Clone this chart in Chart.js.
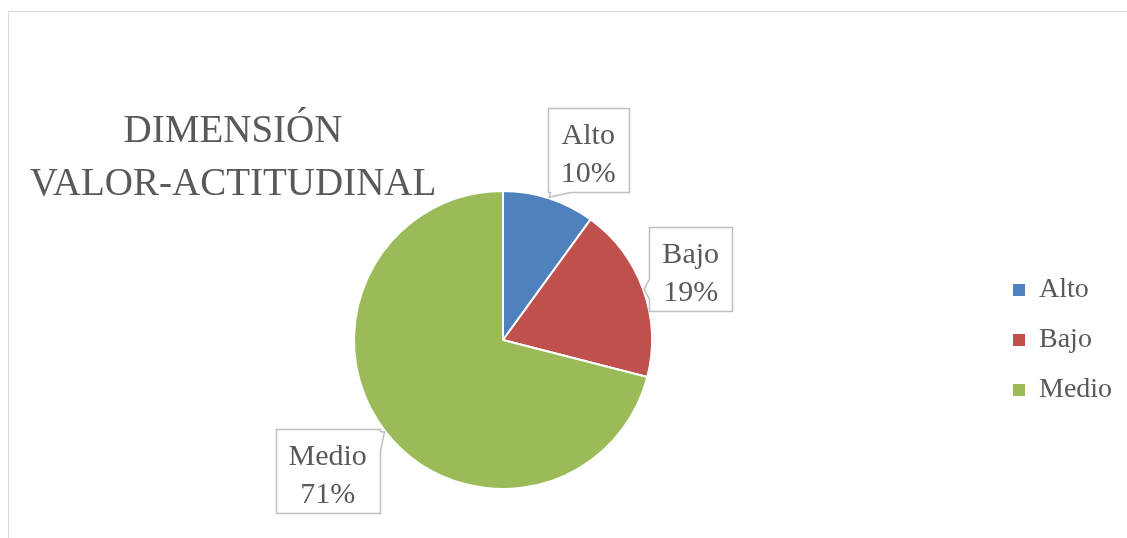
<!DOCTYPE html>
<html>
<head>
<meta charset="utf-8">
<script src="https://cdn.jsdelivr.net/npm/chart.js@4.4.0/dist/chart.umd.min.js"></script>
<style>
  html, body { margin: 0; padding: 0; background: #fff; }
  #wrap { width: 1127px; height: 538px; position: relative; }
</style>
</head>
<body>
<div id="wrap"><canvas id="chart"></canvas></div>
<script>
const categories = ['Alto', 'Bajo', 'Medio'];
const percentages = [10, 19, 71];
const sliceColors = ['#4F81BD', '#C0504D', '#9BBB59'];
const titleLines = ['DIMENSIÓN', 'VALOR-ACTITUDINAL'];

const textColor = '#595959';
const serif = "'Liberation Serif', 'DejaVu Serif', serif";
const legendFontSize = 28;
const legendPadding = 22;
const legendBox = 12;

// callout boxes sit outside the pie, nudged a bit like Excel's best fit
const labelDist = 208;
const labelNudge = [[21, 8], [-8, -1], [-11, 4]];

// measure legend so the pie centre lands in the right place
const mctx = document.createElement('canvas').getContext('2d');
mctx.font = legendFontSize + 'px ' + serif;
const legendTextW = Math.max(...categories.map(c => mctx.measureText(c).width));
const legendLeft = 991;
const legendW = legendPadding + legendBox + legendFontSize / 2 + legendTextW + 10;

const framePlugin = {
  id: 'frame',
  beforeDraw(chart) {
    const ctx = chart.ctx;
    ctx.save();
    ctx.strokeStyle = '#D9D9D9';
    ctx.lineWidth = 1;
    ctx.strokeRect(8.5, 11.5, 1300, 700);
    ctx.fillStyle = textColor;
    ctx.font = '39px ' + serif;
    ctx.textAlign = 'center';
    ctx.textBaseline = 'alphabetic';
    ctx.fillText(titleLines[0], 233, 142);
    ctx.fillText(titleLines[1], 233, 195);
    ctx.restore();
  }
};

const calloutPlugin = {
  id: 'callouts',
  afterDatasetsDraw(chart) {
    const ctx = chart.ctx;
    const meta = chart.getDatasetMeta(0);
    const total = percentages.reduce((a, b) => a + b, 0);
    ctx.save();
    ctx.font = '30px ' + serif;
    meta.data.forEach((arc, i) => {
      const p = arc.getProps(['x', 'y', 'startAngle', 'endAngle', 'outerRadius'], true);
      const mid = (p.startAngle + p.endAngle) / 2;
      const dx = Math.cos(mid), dy = Math.sin(mid);
      const cx = p.x + dx * labelDist + labelNudge[i][0];
      const cy = p.y + dy * labelDist + labelNudge[i][1];
      const lines = [categories[i], Math.round(percentages[i] / total * 100) + '%'];
      const w = Math.round(Math.max(...lines.map(t => ctx.measureText(t).width)) + 26);
      const h = 84;
      const L = Math.round(cx - w / 2) + 0.5, T = Math.round(cy - h / 2) + 0.5;
      const R = L + w, B = T + h;
      const tx = p.x + dx * (p.outerRadius + 1), ty = p.y + dy * (p.outerRadius + 1);
      const clamp = (v, a, b) => Math.max(a, Math.min(b, v));
      let pts;
      if (ty > B) {
        const bc = clamp(tx, L + 12, R - 12);
        pts = [[L, T], [R, T], [R, B], [bc + 10, B], [tx, ty], [bc - 10, B], [L, B]];
      } else if (ty < T) {
        const bc = clamp(tx, L + 12, R - 12);
        pts = [[L, T], [bc - 10, T], [tx, ty], [bc + 10, T], [R, T], [R, B], [L, B]];
      } else if (tx < L) {
        const bc = clamp(ty, T + 12, B - 12);
        pts = [[L, T], [R, T], [R, B], [L, B], [L, bc + 10], [tx, ty], [L, bc - 10]];
      } else {
        const bc = clamp(ty, T + 12, B - 12);
        pts = [[L, T], [R, T], [R, bc - 10], [tx, ty], [R, bc + 10], [R, B], [L, B]];
      }
      ctx.beginPath();
      pts.forEach((pt, k) => k ? ctx.lineTo(pt[0], pt[1]) : ctx.moveTo(pt[0], pt[1]));
      ctx.closePath();
      ctx.fillStyle = '#FFFFFF';
      ctx.fill();
      ctx.strokeStyle = '#BFBFBF';
      ctx.lineWidth = 1.5;
      ctx.stroke();
      ctx.fillStyle = textColor;
      ctx.textAlign = 'center';
      ctx.textBaseline = 'alphabetic';
      ctx.fillText(lines[0], cx, T + 35);
      ctx.fillText(lines[1], cx, T + 73);
    });
    ctx.restore();
  }
};

const baseLabels = (Chart.overrides.pie || Chart.overrides.doughnut).plugins.legend.labels.generateLabels;

new Chart(document.getElementById('chart'), {
  type: 'pie',
  data: {
    labels: categories,
    datasets: [{
      data: percentages,
      backgroundColor: sliceColors,
      borderColor: '#FFFFFF',
      borderWidth: 2,
      radius: 149
    }]
  },
  options: {
    responsive: true,
    maintainAspectRatio: false,
    animation: false,
    events: [],
    layout: {
      padding: {
        left: 2 * 503 - legendLeft,
        right: 1127 - legendLeft - legendW,
        top: 192,
        bottom: 50
      }
    },
    plugins: {
      tooltip: { enabled: false },
      legend: {
        position: 'right',
        labels: {
          color: textColor,
          font: { family: serif, size: legendFontSize },
          boxWidth: legendBox,
          boxHeight: legendBox,
          padding: legendPadding,
          generateLabels: chart => baseLabels(chart).map(l => ({ ...l, lineWidth: 0 }))
        }
      }
    }
  },
  plugins: [framePlugin, calloutPlugin]
});
</script>
</body>
</html>
